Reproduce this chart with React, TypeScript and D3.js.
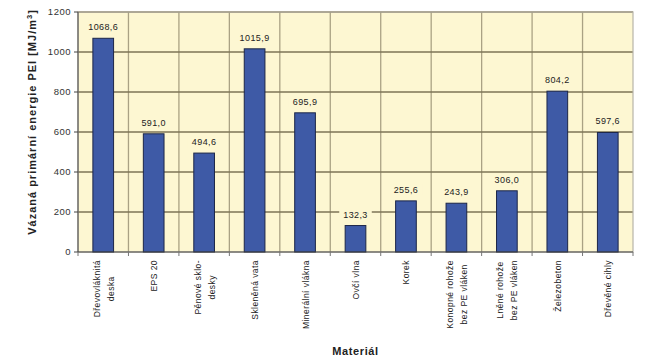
import React, { useEffect, useRef } from "react";
import * as d3 from "d3";

const categories: string[][] = [
  ["Dřevovláknitá", "deska"],
  ["EPS 20"],
  ["Pěnové sklo-", "desky"],
  ["Skleněná vata"],
  ["Minerální vlákna"],
  ["Ovčí vlna"],
  ["Korek"],
  ["Konopné rohože", "bez PE vláken"],
  ["Lněné rohože", "bez PE vláken"],
  ["Železobeton"],
  ["Dřevěné cihly"],
];
const values: number[] = [1068.6, 591.0, 494.6, 1015.9, 695.9, 132.3, 255.6, 243.9, 306.0, 804.2, 597.6];
const yTicks: number[] = [0, 200, 400, 600, 800, 1000, 1200];
const yTitle = "Vázaná primární energie PEI [MJ/m";
const xTitle = "Materiál";

const W = 648, H = 359;
const M = { left: 78, right: 15, top: 12, bottom: 107 };
const FONT = "'Liberation Sans', Arial, sans-serif";

export default function App() {
  const ref = useRef<SVGSVGElement>(null);
  useEffect(() => {
    const svg = d3.select(ref.current);
    svg.selectAll("*").remove();
    const x0 = M.left, x1 = W - M.right, y0 = M.top, y1 = H - M.bottom;
    const idx = categories.map((_, i) => String(i));
    const x = d3.scaleBand<string>().domain(idx).range([x0, x1]).paddingInner(0).paddingOuter(0);
    const y = d3.scaleLinear().domain([0, 1200]).range([y1, y0]);

    svg.append("rect").attr("width", W).attr("height", H).attr("fill", "#ffffff");
    svg.append("rect").attr("x", x0).attr("y", y0).attr("width", x1 - x0).attr("height", y1 - y0)
      .attr("fill", "#fdf7d2");

    // vertical gridlines
    const bounds = idx.map((d) => x(d)!).concat([x1]);
    svg.append("g").selectAll("line").data(bounds.slice(1, -1)).join("line")
      .attr("x1", (d) => d).attr("x2", (d) => d).attr("y1", y0).attr("y2", y1)
      .attr("stroke", "#aaa284").attr("stroke-width", 1.3);
    // horizontal gridlines
    svg.append("g").selectAll("line").data(yTicks.filter((t) => t > 0)).join("line")
      .attr("x1", x0).attr("x2", x1).attr("y1", (d) => y(d)).attr("y2", (d) => y(d))
      .attr("stroke", "#7d7556").attr("stroke-width", 1.4);
    // plot border
    svg.append("rect").attr("x", x0).attr("y", y0).attr("width", x1 - x0).attr("height", y1 - y0)
      .attr("fill", "none").attr("stroke", "#b8b4a8").attr("stroke-width", 1.2);

    // value labels with masks
    const lab = svg.append("g");
    values.forEach((v, i) => {
      const cx = x(String(i))! + x.bandwidth() / 2;
      const t = lab.append("text").attr("x", cx).attr("y", y(v) - 8)
        .attr("text-anchor", "middle").attr("font-family", FONT).attr("font-size", 9)
        .attr("letter-spacing", 0.4)
        .attr("fill", "#222").text(d3.format(".1f")(v).replace(".", ","));
      const bb = (t.node() as SVGTextElement).getBBox();
      lab.insert("rect", "text").attr("x", bb.x - 4).attr("y", bb.y - 1).attr("width", bb.width + 8)
        .attr("height", bb.height + 2).attr("fill", "#fdf7d2");
    });

    // bars
    const bw = x.bandwidth() * 0.41;
    svg.append("g").selectAll("rect").data(values).join("rect")
      .attr("x", (_, i) => x(String(i))! + x.bandwidth() / 2 - bw / 2)
      .attr("y", (d) => y(d)).attr("width", bw).attr("height", (d) => y1 - y(d))
      .attr("fill", "#3e5aa6").attr("stroke", "#1c2648").attr("stroke-width", 1);

    // axes lines
    svg.append("line").attr("x1", x0).attr("x2", x0).attr("y1", y0).attr("y2", y1)
      .attr("stroke", "#444").attr("stroke-width", 1);
    svg.append("line").attr("x1", x0).attr("x2", x1).attr("y1", y1).attr("y2", y1)
      .attr("stroke", "#444").attr("stroke-width", 1.2);
    // y ticks
    const yg = svg.append("g");
    yTicks.forEach((t) => {
      yg.append("line").attr("x1", x0 - 4).attr("x2", x0).attr("y1", y(t)).attr("y2", y(t))
        .attr("stroke", "#444");
      yg.append("text").attr("x", x0 - 7).attr("y", y(t)).attr("dy", "0.35em")
        .attr("text-anchor", "end").attr("font-family", FONT).attr("font-size", 9.5)
        .attr("letter-spacing", 0.5)
        .attr("fill", "#333").text(String(t));
    });
    // x ticks
    svg.append("g").selectAll("line").data(bounds).join("line")
      .attr("x1", (d) => d).attr("x2", (d) => d).attr("y1", y1).attr("y2", y1 + 4)
      .attr("stroke", "#777");

    // category labels rotated
    const cg = svg.append("g");
    categories.forEach((lines, i) => {
      const cx = x(String(i))! + x.bandwidth() / 2;
      const texts = lines.map((ln) =>
        cg.append("text").attr("font-family", FONT).attr("font-size", 8.5)
          .attr("letter-spacing", 0.45)
          .attr("fill", "#222").attr("text-anchor", "middle").text(ln));
      const maxL = d3.max(texts, (t) => (t.node() as SVGTextElement).getComputedTextLength()) || 0;
      const centerY = y1 + 8 + maxL / 2;
      const n = lines.length;
      texts.forEach((t, j) => {
        const lx = cx + (j - (n - 1) / 2) * 14 + 3.5;
        t.attr("transform", `translate(${lx},${centerY}) rotate(-90)`);
      });
    });

    // titles
    const yt = svg.append("text").attr("transform", `translate(36,122) rotate(-90)`)
      .attr("text-anchor", "middle").attr("font-family", FONT).attr("font-size", 11)
      .attr("font-weight", "bold").attr("fill", "#222").attr("letter-spacing", 1);
    yt.append("tspan").text(yTitle);
    yt.append("tspan").attr("font-size", 7.5).attr("dy", -4).text("3");
    yt.append("tspan").attr("dy", 4).text("]");

    svg.append("text").attr("x", (x0 + x1) / 2).attr("y", 355).attr("text-anchor", "middle")
      .attr("font-family", FONT).attr("font-size", 11).attr("font-weight", "bold")
      .attr("letter-spacing", 0.6)
      .attr("fill", "#222").text(xTitle);
  }, []);
  return (
    <svg ref={ref} width={W} height={H}
      style={{ position: "absolute", left: 0, top: 0, display: "block" }} />
  );
}
